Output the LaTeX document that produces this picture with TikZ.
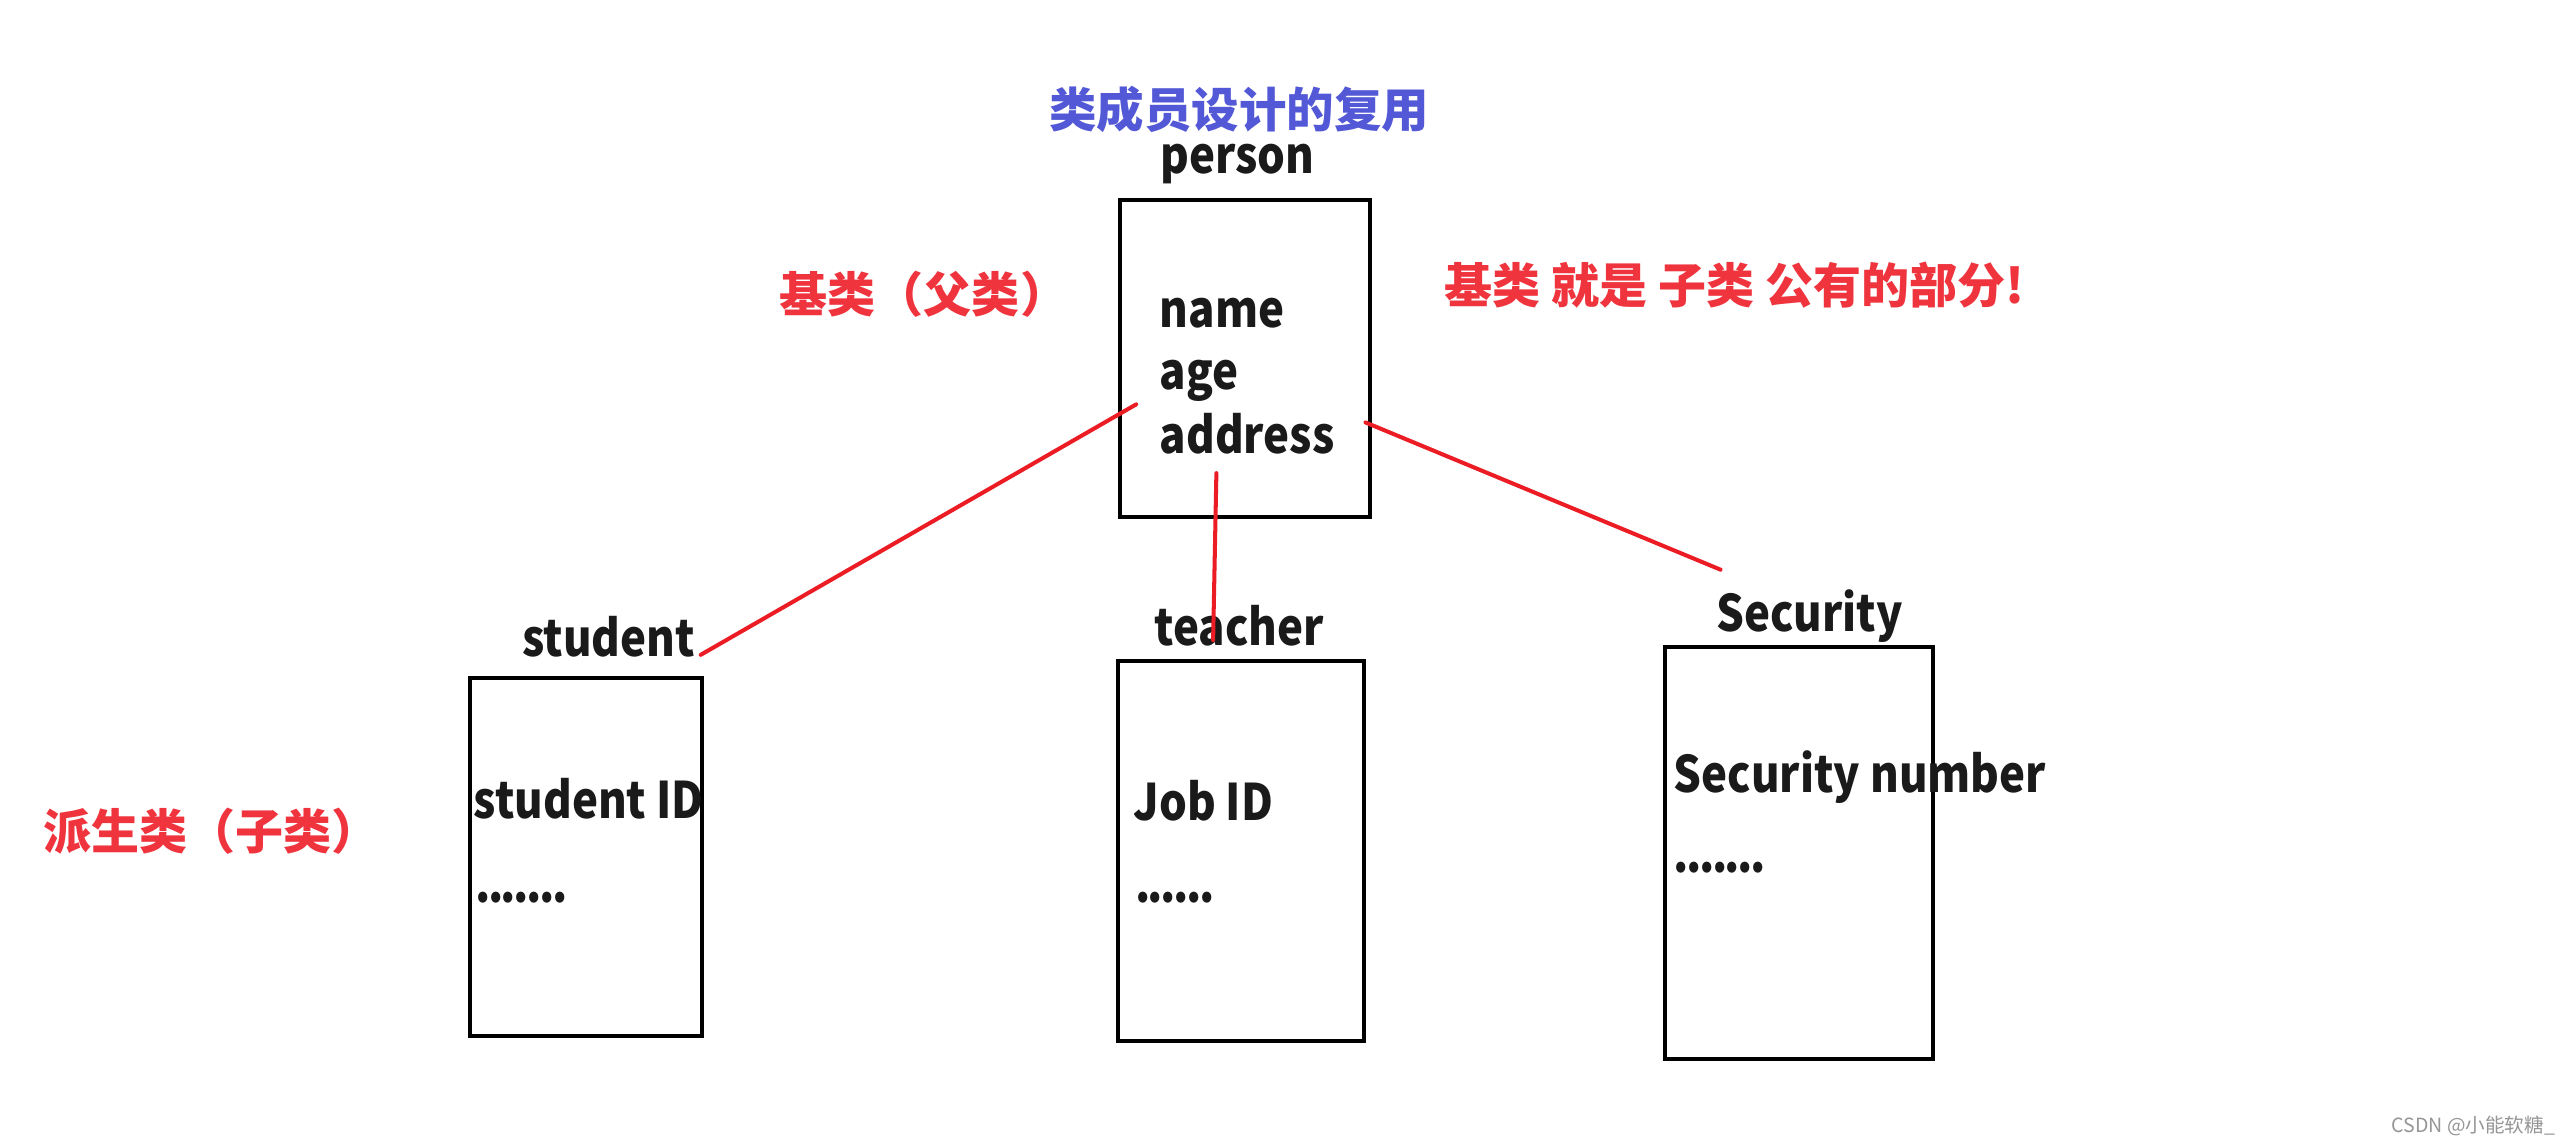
\documentclass[tikz,border=0pt]{standalone}
\usepackage{fontspec}
\setmainfont{Noto Sans CJK SC}
\newfontfamily\narrowfont{Noto Sans CJK SC}[FakeStretch=0.87]
\usetikzlibrary{fit}
\definecolor{redtxt}{RGB}{240,52,62}
\definecolor{redline}{RGB}{236,28,36}
\definecolor{bluetxt}{RGB}{82,88,214}
\definecolor{wmgray}{RGB}{150,150,150}
\definecolor{ink}{RGB}{26,26,26}
\newcommand\dt{.\kern-0.9pt}
\begin{document}
\begin{tikzpicture}[x=0.02cm,y=-0.02cm,
  box/.style={draw=black, line width=1.4pt, inner sep=0pt},
  lbl/.style={font=\narrowfont\fontsize{17.5}{20}\selectfont\bfseries, text=ink, inner sep=0pt},
  redtext/.style={font=\fontsize{16.7}{19}\selectfont\bfseries, text=redtxt, inner sep=0pt},
  titletext/.style={font=\fontsize{16.5}{19}\selectfont\bfseries, text=bluetxt, inner sep=0pt},
  link/.style={draw=redline, line width=1.4pt, line cap=round}]
\useasboundingbox (0,0) rectangle (1568,699);
\fill[white] (0,0) rectangle (1568,699);

% title and notes
\node[titletext] (title) at (757,67) {类成员设计的复用};
\node[redtext, anchor=west] (basenote) at (476,180) {基类（父类）};
\node[redtext, anchor=west] (rule) at (882,174) {基类 就是 子类 公有的部分!};
\node[redtext, anchor=west] (derivednote) at (26,508) {派生类（子类）};

% person
\node[lbl, anchor=base] (plabel) at (756,106) {person};
\node[box, fit={(684,122) (837,316)}] (pbox) {};
\node[lbl, anchor=base west] (pname) at (708,200) {name};
\node[lbl, anchor=base west] (page) at (708,238) {age};
\node[lbl, anchor=base west] (paddr) at (708,277) {address};

% student
\node[lbl, anchor=base west] (slabel) at (318.6,401) {student};
\node[box, fit={(287,414) (429,633)}] (sbox) {};
\node[lbl, anchor=base west] (sid) at (289,500) {student ID};
\node[lbl, anchor=base west] (sdots) at (290,551) {\dt\dt\dt\dt\dt\dt.};

% teacher
\node[lbl, anchor=base west] (tlabel) at (705,394) {teacher};
\node[box, fit={(683,404) (833,636)}] (tbox) {};
\node[lbl, anchor=base west] (tid) at (692,501) {Job ID};
\node[lbl, anchor=base west] (tdots) at (693,551) {\dt\dt\dt\dt\dt.};

% security
\node[lbl, anchor=base west] (seclabel) at (1048,386) {Security};
\node[box, fit={(1017,395) (1181,647)}] (secbox) {};
\node[lbl, anchor=base west] (secnum) at (1022,484) {Security number};
\node[lbl, anchor=base west] (secdots) at (1022,533) {\dt\dt\dt\dt\dt\dt.};

% connectors
\coordinate (ps) at (694,247);
\coordinate (se) at (428,400);
\coordinate (pt) at (743,289);
\coordinate (te) at (741,391);
\coordinate (pc) at (834,258);
\coordinate (ce) at (1051,348);
\draw[link] (ps) -- (se);
\draw[link] (pt) -- (te);
\draw[link] (pc) -- (ce);

% watermark
\node[font=\fontsize{6.8}{8}\selectfont, text=wmgray, anchor=east, inner sep=0pt] (wm) at (1561,688) {CSDN @小能软糖\_};
\end{tikzpicture}
\end{document}
